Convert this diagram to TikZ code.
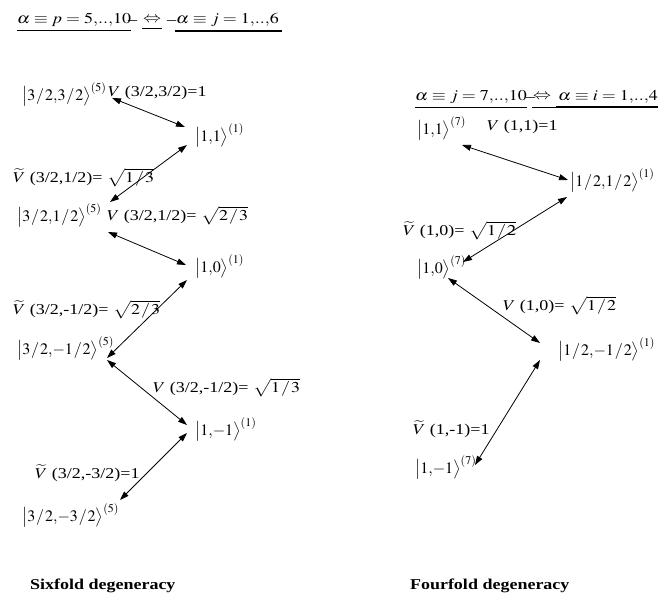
\documentclass[tikz,border=0pt]{standalone}
\usepackage{mathptmx}
\usepackage[no-math]{fontspec}
\setmainfont{Liberation Serif}
\usetikzlibrary{arrows.meta}
\newcommand{\sx}[1]{\scalebox{1.2}[1]{#1}}
\newcommand{\slh}{\mskip1mu/\mskip1mu}
\newcommand{\kt}[2]{$\bigl|#1\bigr\rangle^{(#2)}$}
\begin{document}
\begin{tikzpicture}[x=1pt,y=-1pt,
  every node/.style={inner sep=0pt, outer sep=0pt, anchor=west, font=\fontsize{15}{18}\selectfont},
  ketn/.style={font=\fontsize{16}{19}\selectfont},
  capt/.style={font=\fontsize{15}{18}\selectfont\bfseries},
  dbl/.style={{Triangle[length=9pt,width=6pt]}-{Triangle[length=9pt,width=6pt]}, line width=0.8pt},
  ul/.style={line width=0.8pt},
  ulthick/.style={line width=1.6pt}]
\useasboundingbox (0,0) rectangle (672,597);

% left header
\node (h1) at (17,20) {\sx{$\alpha\equiv p=5{,}..{,}10$}};
\node (h1u) at (128,20) {\sx{\_}};
\node (h2) at (143,20) {\sx{$\Leftrightarrow$}};
\node (h2u) at (167,20) {\sx{\_}};
\node (h3) at (176,20) {\sx{$\alpha\equiv j=1{,}..{,}6$}};
\draw[ul] ([shift={(0,10)}]h1.west) -- ([shift={(0,10)}]h1.east);
\draw[ul] ([shift={(-1,8)}]h2.west) -- ([shift={(1,8)}]h2.east);
\draw[ulthick] ([shift={(-1,11)}]h3.west) -- ([shift={(3,11)}]h3.east);

% right header
\node (h4) at (415,97) {\sx{$\alpha\equiv j=7{,}..{,}10$}};
\node (h4u) at (526,97) {\sx{\_}};
\node (h5) at (533,97) {\sx{$\Leftrightarrow$}};
\node (h6) at (558,97) {\sx{$\alpha\equiv i=1{,}..{,}4$}};
\draw[ul] ([shift={(0,10)}]h4.west) -- ([shift={(0,10)}]h4.east);
\draw[ul] ([shift={(-1,10)}]h5.west) -- ([shift={(-2,10)}]h6.west);
\draw[ulthick] ([shift={(-2,10)}]h6.west) -- ([shift={(0,10)}]h6.east);

% left kets
\node[ketn] (A1) at (22,94)  {\kt{3\slh 2{,}3\slh 2}{5}};
\node[ketn] (B1) at (195,135) {\kt{1{,}1}{1}};
\node[ketn] (A2) at (17,215) {\kt{3\slh 2{,}1\slh 2}{5}};
\node[ketn] (B2) at (195,266) {\kt{1{,}0}{1}};
\node[ketn] (A3) at (17,348) {\kt{3\slh 2{,}{-}1\slh 2}{5}};
\node[ketn] (B3) at (195,429) {\kt{1{,}{-}1}{1}};
\node[ketn] (A4) at (22,515) {\kt{3\slh 2{,}{-}3\slh 2}{5}};

% left labels
\node (L1) at (108,93)  {\sx{$V$ (3/2,3/2)=1}};
\node (L2) at (13,178)  {\sx{$\widetilde{V}$ (3/2,1/2)= $\sqrt{1\slh 3}$}};
\node (L3) at (107,216) {\sx{$V$ (3/2,1/2)= $\sqrt{2\slh 3}$}};
\node (L4) at (13,310)  {\sx{$\widetilde{V}$ (3/2,-1/2)= $\sqrt{2\slh 3}$}};
\node (L5) at (153,388) {\sx{$V$ (3/2,-1/2)= $\sqrt{1\slh 3}$}};
\node (L6) at (35,473)  {\sx{$\widetilde{V}$ (3/2,-3/2)=1}};

% left arrows
\draw[dbl] ([shift={(90,4)}]A1.west) -- ([shift={(-10,-8)}]B1.west);
\draw[dbl] ([shift={(-8,10)}]B1.west) -- ([shift={(93,-13)}]A2.west);
\draw[dbl] ([shift={(91,17)}]A2.west) -- ([shift={(-9,-1)}]B2.west);
\draw[dbl] ([shift={(-8,14)}]B2.west) -- ([shift={(90,10)}]A3.west);
\draw[dbl] ([shift={(90,12)}]A3.west) -- ([shift={(-8,-4)}]B3.west);
\draw[dbl] ([shift={(-8,4)}]B3.west) -- ([shift={(98,-15)}]A4.west);

% right kets
\node[ketn] (R1) at (417,128) {\kt{1{,}1}{7}};
\node[ketn] (S1) at (570,180) {\kt{1\slh 2{,}1\slh 2}{1}};
\node[ketn] (R2) at (417,267) {\kt{1{,}0}{7}};
\node[ketn] (S2) at (558,349) {\kt{1\slh 2{,}{-}1\slh 2}{1}};
\node[ketn] (R3) at (415,467) {\kt{1{,}{-}1}{7}};

% right labels
\node (M1) at (487,127) {\sx{$V$ (1,1)=1}};
\node (M2) at (403,231) {\sx{$\widetilde{V}$ (1,0)= $\sqrt{1\slh 2}$}};
\node (M3) at (503,306) {\sx{$V$ (1,0)= $\sqrt{1\slh 2}$}};
\node (M4) at (413,429) {\sx{$\widetilde{V}$ (1,-1)=1}};

% right arrows
\draw[dbl] ([shift={(45,17)}]R1.west) -- ([shift={(-2,0)}]S1.west);
\draw[dbl] ([shift={(-3,17)}]S1.west) -- ([shift={(46,-5)}]R2.west);
\draw[dbl] ([shift={(31,11)}]R2.west) -- ([shift={(-18,-6)}]S2.west);
\draw[dbl] ([shift={(-18,11)}]S2.west) -- ([shift={(60,-2)}]R3.west);

% captions
\node[capt] (c1) at (30,586) {\sx{Sixfold degeneracy}};
\node[capt] (c2) at (410,586) {\sx{Fourfold degeneracy}};
\end{tikzpicture}
\end{document}
